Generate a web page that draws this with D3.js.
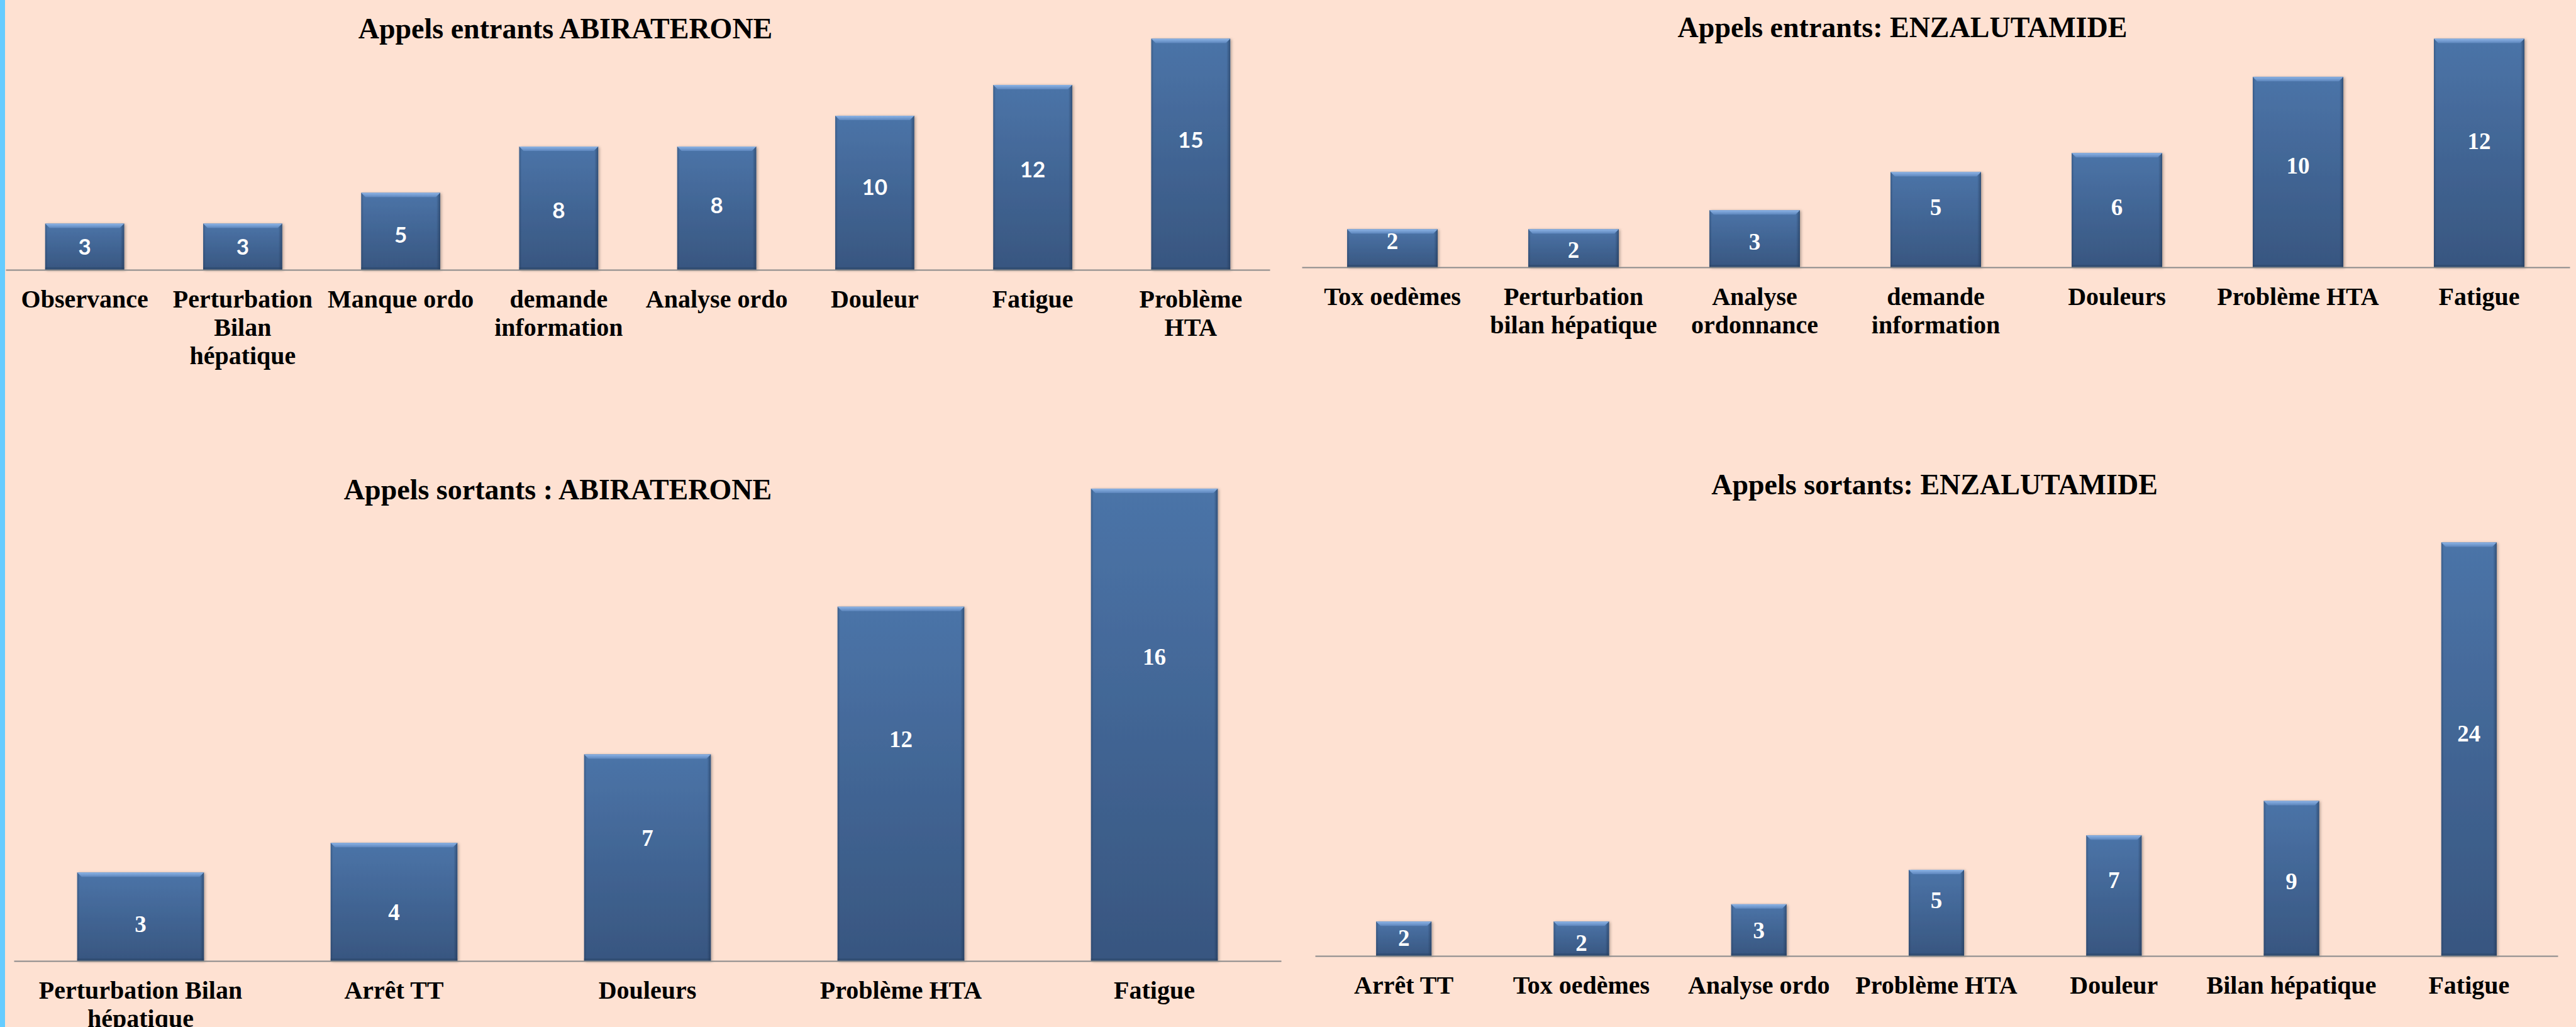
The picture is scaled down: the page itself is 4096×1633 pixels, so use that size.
<!DOCTYPE html>
<html>
<head>
<meta charset="utf-8">
<script src="https://cdn.jsdelivr.net/npm/d3@7"></script>
<style>
  body { margin: 0; background: #fee1d2; overflow: hidden; }
  svg { display: block; }
</style>
</head>
<body>
<div id="chart"></div>
<script>
// Appels entrants ABIRATERONE
const entAbiCats = ["Observance", "Perturbation Bilan hépatique", "Manque ordo", "demande information", "Analyse ordo", "Douleur", "Fatigue", "Problème HTA"];
const entAbiVals = [3, 3, 5, 8, 8, 10, 12, 15];
const entAbiLabelAt = [1.5, 1.5, 2.27, 3.85, 4.18, 5.35, 6.52, 8.4];

// Appels entrants: ENZALUTAMIDE
const entEnzCats = ["Tox oedèmes", "Perturbation bilan hépatique", "Analyse ordonnance", "demande information", "Douleurs", "Problème HTA", "Fatigue"];
const entEnzVals = [2, 2, 3, 5, 6, 10, 12];
const entEnzLabelAt = [1.38, 0.93, 1.36, 3.18, 3.18, 5.34, 6.62];

// Appels sortants : ABIRATERONE
const sortAbiCats = ["Perturbation Bilan hépatique", "Arrêt TT", "Douleurs", "Problème HTA", "Fatigue"];
const sortAbiVals = [3, 4, 7, 12, 16];
const sortAbiLabelAt = [1.25, 1.66, 4.18, 7.52, 10.3];

// Appels sortants: ENZALUTAMIDE
const sortEnzCats = ["Arrêt TT", "Tox oedèmes", "Analyse ordo", "Problème HTA", "Douleur", "Bilan hépatique", "Fatigue"];
const sortEnzVals = [2, 2, 3, 5, 7, 9, 24];
const sortEnzLabelAt = [1.05, 0.75, 1.5, 3.26, 4.4, 4.35, 12.9];

var W = 4096, H = 1633;
var serif = "'Liberation Serif', 'Times New Roman', serif";

var panels = [
  {title: "Appels entrants ABIRATERONE", cats: entAbiCats, vals: entAbiVals, labelAt: entAbiLabelAt,
   x0: 9, x1: 2019, base: 429, top: 37, yMax: 16, pad: 0.5, tx: 899, ty: 61,
   valFont: "Lato, 'Open Sans', sans-serif", valSize: 35},
  {title: "Appels entrants: ENZALUTAMIDE", cats: entEnzCats, vals: entEnzVals, labelAt: entEnzLabelAt,
   x0: 2070, x1: 4086, base: 425, top: 1, yMax: 14, pad: 0.5, tx: 3025, ty: 59,
   valFont: serif, valSize: 37},
  {title: "Appels sortants : ABIRATERONE", cats: sortAbiCats, vals: sortAbiVals, labelAt: sortAbiLabelAt,
   x0: 22, x1: 2037, base: 1528, top: 683, yMax: 18, pad: 0.5, tx: 887, ty: 794,
   valFont: serif, valSize: 37},
  {title: "Appels sortants: ENZALUTAMIDE", cats: sortEnzCats, vals: sortEnzVals, labelAt: sortEnzLabelAt,
   x0: 2091, x1: 4067, base: 1520, top: 835, yMax: 25, pad: 0.688, tx: 3076, ty: 786,
   valFont: serif, valSize: 37}
];

var svg = d3.select("#chart").append("svg")
    .attr("width", W).attr("height", H);

var defs = svg.append("defs");
var g1 = defs.append("linearGradient").attr("id", "barFill").attr("x1", 0).attr("y1", 0).attr("x2", 0).attr("y2", 1);
g1.append("stop").attr("offset", "0%").attr("stop-color", "#4b74a8");
g1.append("stop").attr("offset", "100%").attr("stop-color", "#385680");
var g2 = defs.append("linearGradient").attr("id", "bevel").attr("x1", 0).attr("y1", 0).attr("x2", 0).attr("y2", 1);
g2.append("stop").attr("offset", "0%").attr("stop-color", "#8db4e6");
g2.append("stop").attr("offset", "100%").attr("stop-color", "#5d86bd");
var g3 = defs.append("linearGradient").attr("id", "side").attr("x1", 0).attr("y1", 0).attr("x2", 1).attr("y2", 0);
g3.append("stop").attr("offset", "0%").attr("stop-color", "#1e3350").attr("stop-opacity", 0);
g3.append("stop").attr("offset", "100%").attr("stop-color", "#1e3350").attr("stop-opacity", 0.55);
var g4 = defs.append("linearGradient").attr("id", "sideL").attr("x1", 0).attr("y1", 0).attr("x2", 1).attr("y2", 0);
g4.append("stop").attr("offset", "0%").attr("stop-color", "#1e3350").attr("stop-opacity", 0.35);
g4.append("stop").attr("offset", "100%").attr("stop-color", "#1e3350").attr("stop-opacity", 0);
var f = defs.append("filter").attr("id", "shadow").attr("x", "-10%").attr("y", "-10%").attr("width", "130%").attr("height", "130%");
f.append("feDropShadow").attr("dx", 2).attr("dy", 1).attr("stdDeviation", 2)
    .attr("flood-color", "#000").attr("flood-opacity", 0.3);

// left blue stripe
svg.append("rect").attr("x", 0).attr("y", 0).attr("width", 8).attr("height", H).attr("fill", "#66ccff");

function wrap(sel, width, lineH) {
  sel.each(function() {
    var t = d3.select(this);
    var words = t.text().split(/\s+/);
    var x = t.attr("x");
    t.text(null);
    var line = [];
    var tspan = t.append("tspan").attr("x", x).attr("dy", 0);
    words.forEach(function(w) {
      line.push(w);
      tspan.text(line.join(" "));
      if (tspan.node().getComputedTextLength() > width && line.length > 1) {
        line.pop();
        tspan.text(line.join(" "));
        line = [w];
        tspan = t.append("tspan").attr("x", x).attr("dy", lineH).text(w);
      }
    });
  });
}

panels.forEach(function(p) {
  var g = svg.append("g");

  var xScale = d3.scaleBand().domain(p.cats).range([p.x0, p.x1])
      .paddingInner(p.pad).paddingOuter(p.pad / 2);
  var yScale = d3.scaleLinear().domain([0, p.yMax]).range([p.base, p.top]);
  var bw = xScale.bandwidth();
  var bev = 7;

  var rows = p.cats.map(function(c, i) { return {cat: c, val: p.vals[i], at: p.labelAt[i]}; });

  var bars = g.selectAll(".bar").data(rows).enter().append("g").attr("class", "bar");
  bars.append("rect")
      .attr("x", function(d) { return xScale(d.cat); })
      .attr("y", function(d) { return yScale(d.val); })
      .attr("width", bw)
      .attr("height", function(d) { return p.base - yScale(d.val); })
      .attr("fill", "url(#barFill)")
      .attr("filter", "url(#shadow)");
  bars.append("rect")
      .attr("x", function(d) { return xScale(d.cat) + bw - 6; })
      .attr("y", function(d) { return yScale(d.val); })
      .attr("width", 6)
      .attr("height", function(d) { return p.base - yScale(d.val); })
      .attr("fill", "url(#side)");
  bars.append("rect")
      .attr("x", function(d) { return xScale(d.cat); })
      .attr("y", function(d) { return yScale(d.val); })
      .attr("width", 4)
      .attr("height", function(d) { return p.base - yScale(d.val); })
      .attr("fill", "url(#sideL)");
  bars.append("rect")
      .attr("x", function(d) { return xScale(d.cat); })
      .attr("y", p.base - 4)
      .attr("width", bw)
      .attr("height", 4)
      .attr("fill", "#2a4262").attr("opacity", 0.45);
  bars.append("path")
      .attr("d", function(d) {
        var x = xScale(d.cat), y = yScale(d.val);
        return "M" + x + "," + y + "L" + (x + bw) + "," + y + "L" + (x + bw - bev) + "," + (y + bev) +
               "L" + (x + bev) + "," + (y + bev) + "Z";
      })
      .attr("fill", "url(#bevel)");

  // value labels
  g.selectAll(".val").data(rows).enter().append("text")
      .attr("x", function(d) { return xScale(d.cat) + bw / 2; })
      .attr("y", function(d) { return yScale(d.at); })
      .attr("dy", "0.35em")
      .attr("text-anchor", "middle")
      .attr("fill", "#fff")
      .style("font-family", p.valFont)
      .style("font-weight", "bold")
      .style("font-size", p.valSize + "px")
      .text(function(d) { return d.val; });

  // axis line
  var axis = g.append("g").attr("transform", "translate(0," + p.base + ")")
      .call(d3.axisBottom(xScale).tickSize(0).tickFormat(""));
  axis.select(".domain").attr("stroke", "#8a8a8a").attr("stroke-width", 2);

  // category labels
  g.selectAll(".cat").data(rows).enter().append("text")
      .attr("class", "cat")
      .attr("x", function(d) { return xScale(d.cat) + bw / 2; })
      .attr("y", p.base + 60)
      .attr("text-anchor", "middle")
      .attr("fill", "#000")
      .style("font-family", serif)
      .style("font-weight", "bold")
      .style("font-size", "40px")
      .text(function(d) { return d.cat; })
      .call(wrap, xScale.step(), 45);

  // title
  g.append("text")
      .attr("x", p.tx).attr("y", p.ty)
      .attr("text-anchor", "middle")
      .style("font-family", serif)
      .style("font-weight", "bold")
      .style("font-size", "46px")
      .text(p.title);
});
</script>
</body>
</html>
